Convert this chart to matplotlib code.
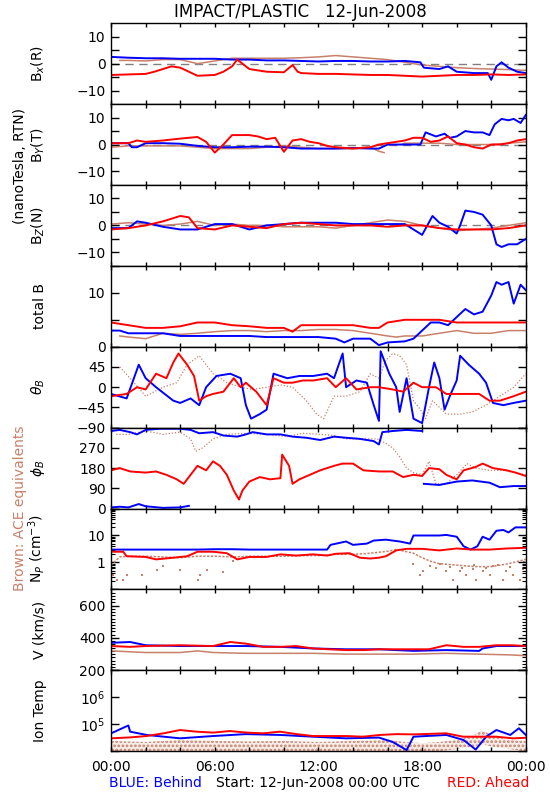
import numpy as np
import matplotlib
matplotlib.use("Agg")
import matplotlib.pyplot as plt
from matplotlib.ticker import NullFormatter, LogLocator, MultipleLocator

nan = np.nan
BLUE = "#0000ff"
RED = "#ff0000"
BROWN = "#c8806a"

# ---------------- Bx (R) ----------------
bx_b_t = [0,1,2,3,4,5,6,7,8,9,10,11,12,13,14,15,16,17,17.9,18.1,19,19.5,20,21,21.8,22.0,22.3,22.6,23,23.5,24]
bx_b = [2.5,2.2,2.0,2.0,1.8,1.8,1.8,1.5,1.5,1.2,1.2,1.0,0.8,1.0,1.0,0.8,0.8,1.0,0.5,-1.5,-2.0,-1.0,-3.0,-3.5,-3.5,-6.0,-1.0,0.5,-1.5,-3.0,-3.5]
bx_r_t = [0,1,2,2.5,3,3.5,4,4.5,5,6,6.5,7,7.3,8,9,10,10.5,10.8,11,12,13,14,15,16,17,18,19,20,21,22,23,24]
bx_r = [-4.2,-4,-3.8,-3,-2,-1,-1.5,-3,-4.5,-4.2,-3,-1,1.5,-2,-3,-3.2,-0.5,-3,-3.5,-3.8,-3.8,-4,-4.2,-4.2,-4.5,-4.8,-4.5,-4.2,-4.2,-4.0,-4.2,-4]
bx_a_t = [0.5,1,2,3,4,5,6,7,8,9,10,11,12,13,14,15,16,17,18,19,20,21,22,23,24]
bx_a = [1.2,1.2,1.0,1.5,1.5,0.0,1.0,2.0,2.0,2.0,2.0,2.2,2.5,3.0,2.5,2.0,1.5,0.5,-0.5,-1.0,-1.5,-1.8,-2.0,-2.2,-2.5]

# ---------------- By (T) ----------------
by_b_t = [0,0.5,1,1.2,1.5,2,3,4,5,6,7,8,9,10,11,12,13,14,15,15.5,16,17,17.9,18.2,18.8,19.3,19.6,20,20.5,21,21.5,21.9,22.2,22.6,23,23.3,23.7,24]
by_b = [0.5,0.5,0.5,-1,-1,0.5,0.5,0.3,-0.5,-1,-1,-0.8,-0.8,-1,-1.5,-1.5,-1.5,-1.3,-1.5,-1.5,0,0,0,4.5,3,4,2.5,3,5,4.5,4.5,3.5,7.5,9.5,9,9.5,8,11]
by_r_t = [0,1,1.5,2,3,4,5,5.5,6,6.5,7,8,8.5,9,9.5,10,10.5,11,11.5,12,12.5,13,14,15,15.5,16,17,17.5,18,18.5,19,19.5,20,20.5,21,21.5,22,22.5,23,23.5,24]
by_r = [0.5,0.5,1.5,1,1.5,2.2,2.8,1,-3,0,3.5,3.5,3,2,2.5,-2.7,1.5,2,1,0.5,-0.5,-1,-1.5,-1,0,0.5,1.5,2.5,2.5,1,1.5,3,0.5,0,-1,-1.5,0,0,0.5,1.5,2]
by_a_t = [0,1,2,3,4,5,6,7,8,9,10,11,12,13,14,15,15.5,15.8,16.3,16.8,17,18,19,20,21,22,23,24]
by_a = [-1,-0.5,-0.5,-0.5,-0.5,-1,-1.5,-1.5,-1.5,-1,-0.5,-1,-1.5,-1.5,-1.5,-1,-2.5,-3,nan,0,0.5,0.5,0.5,0,0,0,0.5,1]

# ---------------- Bz (N) ----------------
bz_b_t = [0,1,1.5,2,3,4,5,6,7,8,9,10,11,12,13,14,15,16,17,17.5,18,18.3,18.6,19,19.5,20,20.2,20.5,21,21.5,22,22.3,22.6,23,23.5,24]
bz_b = [-1,-1,1.5,1,-0.5,-1.5,-1.5,0.5,0.5,-1.5,0,0.5,1,1,1,0.5,0.5,0.5,0.5,-1.5,-3.5,0,3.5,1,-0.5,-3,0,5.5,5,4,0,-7,-8,-7,-7,-5]
bz_r_t = [0,1,2,3,4,4.5,5,6,7,8,9,10,11,12,13,14,15,16,17,18,19,20,21,22,23,24]
bz_r = [-1.5,-1,0,1.5,3.5,3,-1,-1.5,0,-0.5,-1,0.5,1,0.5,0,0,0,-0.5,0,0,-1,-1.5,-1.5,-1.5,-1,0]
bz_a_t = [0,1,2,3,4,5,6,7,8,9,10,11,12,13,14,15,16,17,18,19,20,21,22,23,24]
bz_a = [0.5,1,0.5,0,0.5,1.5,0,0.5,0,0,-0.5,-0.5,-0.5,-1,0,1,2,1.5,0,-1,-2,-1.5,-1,0,1]

# ---------------- total B ----------------
bt_b_t = [0,0.5,1,2,3,4,5,6,7,8,9,10,11,12,13,13.5,14,15,15.5,16,17,17.5,18,18.5,19,19.5,20,20.5,21,21.5,22,22.3,22.6,23,23.3,23.7,24]
bt_b = [3,3,2.5,2.5,2.5,2,2,2,2,2,1.8,1.8,1.8,1.8,1.5,0.8,1.5,1.5,0.3,0.8,1,1.5,3,4.5,4.5,4,5.5,7,6,6.5,9.5,12,11.5,12,8,11.5,10.5]
bt_r_t = [0,1,2,3,4,5,6,7,8,9,10,10.5,11,12,13,14,15,15.5,16,17,18,19,20,21,22,23,24]
bt_r = [4.5,4,3.5,3.5,3.8,4.5,4.5,4,3.8,3.5,3.5,2.8,4,4,4,4,3.5,3.5,4.5,5,5,5,4.5,4.5,4.5,4.5,4.5]
bt_a_t = [0.5,1,2,3,4,5,6,7,8,9,10,11,12,13,14,15,16,16.5,17,18,19,20,21,22,23,24]
bt_a = [2,1.8,1.5,2.5,2.3,2.5,2.8,3,3,2.8,3,3,3.2,3.2,3,2.5,2,1.8,2,2,2.5,3,2.5,2.5,3,3]

# ---------------- theta_B ----------------
th_b_t = [0,0.9,1.6,2,2.6,3.6,4,4.6,5.1,5.5,6.1,6.9,7.5,7.8,8.1,8.6,9,9.4,10.2,10.9,11.7,12.5,12.9,13.4,13.6,14.2,14.8,15.2,15.5,15.6,16.1,16.5,16.7,17.1,17.5,18,18.4,18.7,19,19.3,19.6,20,20.2,20.7,21.3,21.7,22.1,22.7,23.3,24]
th_b = [-15,-25,50,20,0,-30,-35,-25,-40,0,25,30,20,-40,-70,-60,-50,30,20,25,25,30,20,75,0,15,10,-40,-75,80,30,0,-55,20,-70,-80,0,55,20,-50,-20,15,70,50,30,10,-35,-40,-35,-30]
th_r_t = [0,0.9,1.5,2,2.6,3.2,3.6,3.9,4.4,4.8,5.1,5.5,5.9,6.5,7.1,7.5,7.8,8.4,9,9.4,10,10.5,11.1,11.7,12.5,13,13.6,14.2,15,15.5,16.3,16.9,17.5,18,18.8,19.4,20.4,21.3,21.9,22.5,23.3,24]
th_r = [-20,-15,0,-5,30,20,55,75,50,25,-30,-20,-15,-10,20,0,10,-10,-40,20,10,10,15,15,20,0,20,-5,0,0,-5,-10,10,0,0,-15,-15,-15,-30,-30,-20,-10]
th_a_t = [0.5,1.1,2,3,3.8,4.4,5.1,5.5,5.9,6.7,7.5,8.2,9,9.8,10.5,11.3,11.9,12.3,12.9,13.6,14.4,15,15.5,15.9,16.3,16.7,17.1,17.5,17.9,18.2,18.6,19.4,20.2,20.9,21.7,22.5,23.3,24]
th_a = [45,20,-20,0,10,50,70,50,30,10,0,-5,0,5,0,-30,-60,-70,-20,-20,-10,30,20,60,75,70,50,-30,-50,-70,-30,-60,-60,-55,-40,-20,0,30]

# ---------------- phi_B ----------------
ph_b_t = [0,0.5,1.1,1.5,2,2.8,4,4.6,5.1,5.9,6.5,7.3,7.8,8.2,9,9.8,10.5,11.3,12.1,12.9,13.6,14.4,15.2,15.5,15.7,16.3,17.1,18,18.05,18.1,19,20,20.9,21.9,22.5,23.3,24]
ph_b = [345,350,340,330,350,355,355,350,335,340,325,320,330,340,330,330,320,315,305,320,315,310,300,285,340,345,350,345,nan,110,105,120,125,115,95,100,100]
ph_b_low_t = [0,0.5,1,1.6,2,3,4,4.5]
ph_b_low = [5,8,5,20,10,3,5,12]
ph_r_t = [0,0.5,1.1,2,2.6,3.2,3.8,4.2,4.6,5,5.5,5.9,6.3,6.7,7.1,7.4,7.6,8,8.6,9.2,9.8,9.9,10.3,10.5,10.9,11.5,12.1,12.9,13.4,14,14.6,15.5,16.3,16.9,17.5,18,18.4,19,19.4,20,20.4,21.1,21.5,22.1,22.9,23.4,24]
ph_r = [170,180,165,160,165,150,130,110,150,190,170,210,190,150,80,40,80,120,140,130,135,240,190,110,130,150,170,190,200,200,170,165,165,140,150,145,180,175,150,130,170,185,200,180,170,160,145]
ph_a_t = [0.3,1,2,3,4,4.6,4.9,5.3,5.9,6.7,7.8,9,10.2,11.1,12.1,12.9,13.6,14.6,15.4,15.9,16.3,16.7,17.1,17.5,18,18.4,18.8,19.4,20,20.6,21.1,21.9,22.7,23.4,24]
ph_a = [330,330,345,330,340,310,255,270,310,330,335,330,320,335,330,325,310,310,310,290,270,230,180,160,150,210,110,110,150,200,180,170,170,160,150]

# ---------------- N_P ----------------
np_b_t = [0,1,2,3,4,5,6,7,8,9,10,11,12,12.5,12.7,13.6,14,14.8,15.2,15.9,16.7,17.3,17.5,18,19,19.4,20,20.4,20.8,21.2,21.5,21.9,22.3,22.7,23,23.4,24]
np_b = [3,3,3,3,3,3,3.1,3.1,3,3,3,3,3,3,4.5,6,4.5,5,6.5,7,6,5,10,10,10,10.5,9,4,3,4,9,7,15,16,13,20,20]
np_r_t = [0,0.7,0.9,2,2.6,3.6,4.4,5,5.9,6.7,7.3,8,9,9.8,10.7,11.7,12.5,13,13.8,14.4,15,15.5,15.9,16.5,17.1,18,19,20,20.9,21.9,22.9,24]
np_r = [2.5,2.5,1.7,1.6,1.3,1.5,1.7,2.5,2.5,2.2,1.3,1.6,1.6,2,1.8,2,1.8,2.1,2.2,1.5,1.4,1.5,1.7,2.8,3.2,3.2,2.8,3.3,3,3,3.3,3.5]
np_a_t = [0,0.5,1,2,3,4,5,6,7,8,9,10,11,12,13,14,15,16,16.5,17,17.5,18,18.5,19,20,21,22,23,24]
np_a = [0.8,1.6,1.7,1.7,1.6,1.5,1.7,1.7,1.6,1.7,1.7,1.7,1.8,1.8,2,2,2.2,2.6,3,2.6,2.2,1.5,1.1,0.9,0.8,0.7,0.7,0.9,1.3]
np_a_dots_t = [0.13,0.33,0.71,0.91,1.77,2.64,3.03,3.99,5.05,5.14,5.53,6.49,7.07,17.5,17.86,18.05,18.44,18.8,19.02,19.4,19.6,19.79,20.17,20.3,20.56,20.94,21.0,21.14,21.52,21.7,21.91,22.1,22.4,22.68,22.87,23.1,23.26,23.64,23.83,23.9]
np_a_dots = [0.33,0.22,0.22,0.33,0.33,0.54,0.75,0.54,0.22,0.33,0.54,0.43,1.15,0.9,0.33,0.5,0.75,0.6,0.87,0.5,0.7,0.22,0.5,0.6,0.33,0.57,0.8,0.22,0.5,0.65,0.33,0.75,0.8,0.22,0.5,0.7,0.33,0.22,0.57,1.0]

# ---------------- V ----------------
v_b_t = [0,1.1,2,4,5.9,7.8,9.8,11.7,13.6,15.5,17.5,19.4,21.3,21.5,22.3,24]
v_b = [370,375,355,350,350,350,345,335,330,330,320,325,320,335,350,350]
v_r_t = [0,1.1,2,4,5.9,6.9,7.8,8.8,9.8,10.7,11.7,12.6,13.6,14.6,15.5,16.5,17.5,18.4,19.4,20.4,21.3,22.3,23.2,24]
v_r = [350,345,350,355,350,375,365,345,345,350,335,330,325,325,330,330,330,330,355,345,345,355,355,350]
v_a_t = [0,2,4,5,5.9,7.8,9.8,11.7,13.6,15.5,17.5,19.4,21.3,23.2,24]
v_a = [320,310,310,320,310,305,305,305,300,300,300,305,300,295,290]

# ---------------- Ion Temp ----------------
t_b_t = [0,1.0,1.1,2.06,3.99,5.9,7.8,9.8,11.7,13.6,15.5,16.3,17.1,17.5,19.4,20.4,21.1,21.7,22.3,23.1,23.6,24]
t_b = [4.6e4,9e4,5.3e4,4.0e4,3.0e4,3.65e4,4.3e4,4.0e4,3.45e4,3.0e4,3.2e4,2.2e4,1.1e4,3.45e4,4.0e4,2.6e4,1.15e4,3.45e4,6.1e4,4.0e4,7.1e4,4.0e4]
t_r_t = [0,1.1,2.06,3.03,3.99,4.95,5.9,6.88,7.84,8.8,9.77,10.73,11.7,13.62,14.58,15.55,16.51,17.48,19.4,20.37,21.33,22.29,23.26,24]
t_r = [3.0e4,3.25e4,3.65e4,4.6e4,6.1e4,5.3e4,4.9e4,5.6e4,4.9e4,4.6e4,5.3e4,4.3e4,3.65e4,3.65e4,3.45e4,4.0e4,4.3e4,4.2e4,4.6e4,3.45e4,3.45e4,3.45e4,3.0e4,3.15e4]
t_a_t = [0,2,4,6,8,10,12,14,16,17,18,19,20,21,21.5,22,23,24]
t_a_hi = [2.4e4,2.2e4,2.6e4,2.4e4,2.3e4,2.4e4,2.2e4,2.4e4,2.6e4,2.2e4,2.0e4,2.2e4,2.6e4,4e4,6e4,4e4,2.6e4,2.4e4]
t_a_lo = [1.0e4,1.0e4,1.0e4,1.0e4,1.0e4,1.0e4,1.0e4,1.0e4,1.0e4,1.0e4,1.0e4,1.0e4,1.2e4,1.5e4,1.8e4,1.5e4,1.2e4,1.0e4]

hour_ticks = [0, 6, 12, 18, 24]
hour_labels = ["00:00", "06:00", "12:00", "18:00", "00:00"]

plt.rcParams['font.family'] = ['DejaVu Sans']
plt.rcParams['font.size'] = 10
plt.rcParams['hatch.linewidth'] = 1.3

fig, axes = plt.subplots(9, 1, figsize=(5.5, 8), dpi=100, sharex=True)
fig.subplots_adjust(left=0.202, right=0.956, top=0.971, bottom=0.061, hspace=0)

LW = 1.4


def trio(ax, ta, a, tb, b, tr, r):
    ax.plot(ta, a, color=BROWN, lw=1.1)
    ax.plot(tb, b, color=BLUE, lw=LW)
    ax.plot(tr, r, color=RED, lw=LW)


def field_axis(ax, label):
    ax.axhline(0, color="#808080", lw=1, dashes=(6, 4), zorder=0)
    ax.set_ylim(-15, 15)
    ax.set_yticks([-10, -5, 0, 5, 10], ["\u221210", "", "0", "", "10"])
    ax.set_ylabel(label)


trio(axes[0], bx_a_t, bx_a, bx_b_t, bx_b, bx_r_t, bx_r)
field_axis(axes[0], r"B$_x$(R)")
trio(axes[1], by_a_t, by_a, by_b_t, by_b, by_r_t, by_r)
field_axis(axes[1], r"B$_Y$(T)")
trio(axes[2], bz_a_t, bz_a, bz_b_t, bz_b, bz_r_t, bz_r)
field_axis(axes[2], r"B$_Z$(N)")

ax = axes[3]
trio(ax, bt_a_t, bt_a, bt_b_t, bt_b, bt_r_t, bt_r)
ax.set_ylim(0, 15)
ax.set_yticks([0, 5, 10, 15], ["0", "", "10", ""])
ax.set_ylabel("total B")

ax = axes[4]
ax.plot(th_a_t, th_a, color=BROWN, lw=0.9, ls=(0, (1, 1.5)))
ax.plot(th_b_t, th_b, color=BLUE, lw=LW)
ax.plot(th_r_t, th_r, color=RED, lw=LW)
ax.set_ylim(-90, 90)
ax.set_yticks([-90, -45, 0, 45, 90], ["\u221290", "\u221245", "0", "45", ""])
ax.set_ylabel(r"$\theta_B$")

ax = axes[5]
ax.plot(ph_a_t, ph_a, color=BROWN, lw=0.9, ls=(0, (1, 1.5)))
ax.plot(ph_b_t, ph_b, color=BLUE, lw=LW)
ax.plot(ph_b_low_t, ph_b_low, color=BLUE, lw=LW)
ax.plot(ph_r_t, ph_r, color=RED, lw=LW)
ax.set_ylim(0, 360)
ax.set_yticks([0, 90, 180, 270, 360], ["0", "90", "180", "270", ""])
ax.set_ylabel(r"$\phi_B$")

ax = axes[6]
ax.scatter(np_a_dots_t, np_a_dots, s=3, marker="s", color=BROWN, lw=0)
ax.plot(np_a_t, np_a, color=BROWN, lw=1.1, ls=(0, (1.5, 1)))
ax.plot(np_b_t, np_b, color=BLUE, lw=LW)
ax.plot(np_r_t, np_r, color=RED, lw=LW)
ax.set_yscale("log")
ax.set_ylim(0.1, 100)
ax.set_yticks([0.1, 1, 10, 100], ["", "1", "10", ""])
ax.yaxis.set_minor_locator(LogLocator(base=10, subs=np.arange(2, 10)))
ax.yaxis.set_minor_formatter(NullFormatter())
ax.set_ylabel(r"N$_P$ (cm$^{-3}$)")

ax = axes[7]
trio(ax, v_a_t, v_a, v_b_t, v_b, v_r_t, v_r)
ax.set_ylim(200, 700)
ax.set_yticks([200, 400, 600], ["200", "400", "600"])
ax.yaxis.set_minor_locator(MultipleLocator(20))
ax.set_ylabel("V (km/s)")

ax = axes[8]
ax.fill_between(t_a_t, t_a_lo, t_a_hi, facecolor=BROWN, alpha=0.15, linewidth=0)
ax.fill_between(t_a_t, t_a_lo, t_a_hi, facecolor="none", edgecolor=BROWN,
                hatch="....", linewidth=0)
ax.plot(t_b_t, t_b, color=BLUE, lw=LW)
ax.plot(t_r_t, t_r, color=RED, lw=LW)
ax.set_yscale("log")
ax.set_ylim(1e4, 1e7)
ax.set_yticks([1e4, 1e5, 1e6, 1e7], ["", r"10$^5$", r"10$^6$", ""])
ax.yaxis.set_minor_locator(LogLocator(base=10, subs=np.arange(2, 10)))
ax.yaxis.set_minor_formatter(NullFormatter())
ax.set_ylabel("Ion Temp")

for ax in axes:
    ax.set_xlim(0, 24)
    ax.set_xticks(hour_ticks)
    ax.xaxis.set_minor_locator(MultipleLocator(2))
    ax.tick_params(axis="both", which="both", direction="in", top=True, right=True)
    ax.tick_params(axis="y", which="major", length=6, width=1)
    ax.tick_params(axis="y", which="minor", length=3, width=0.8)
    ax.tick_params(axis="x", which="both", length=3, width=1)
    ax.tick_params(axis="both", labelsize=10, pad=4)
    ax.yaxis.set_label_coords(-0.155, 0.5)
    for s in ax.spines.values():
        s.set_linewidth(1)

axes[-1].set_xticks(hour_ticks, hour_labels)
axes[-1].tick_params(axis="x", pad=6)

fig.text(0.547, 0.985, "IMPACT/PLASTIC   12-Jun-2008", ha="center", va="center", fontsize=12)
fig.text(0.036, 0.793, "(nanoTesla, RTN)", rotation=90, ha="center", va="center", fontsize=10)
fig.text(0.036, 0.365, "Brown: ACE equivalents", rotation=90, ha="center", va="center",
         fontsize=10, color=BROWN)
fig.text(0.282, 0.021, "BLUE: Behind", ha="center", va="center", color=BLUE, fontsize=10)
fig.text(0.578, 0.021, "Start: 12-Jun-2008 00:00 UTC", ha="center", va="center", fontsize=10)
fig.text(0.887, 0.021, "RED: Ahead", ha="center", va="center", color=RED, fontsize=10)

fig.savefig("out.png", dpi=100)
